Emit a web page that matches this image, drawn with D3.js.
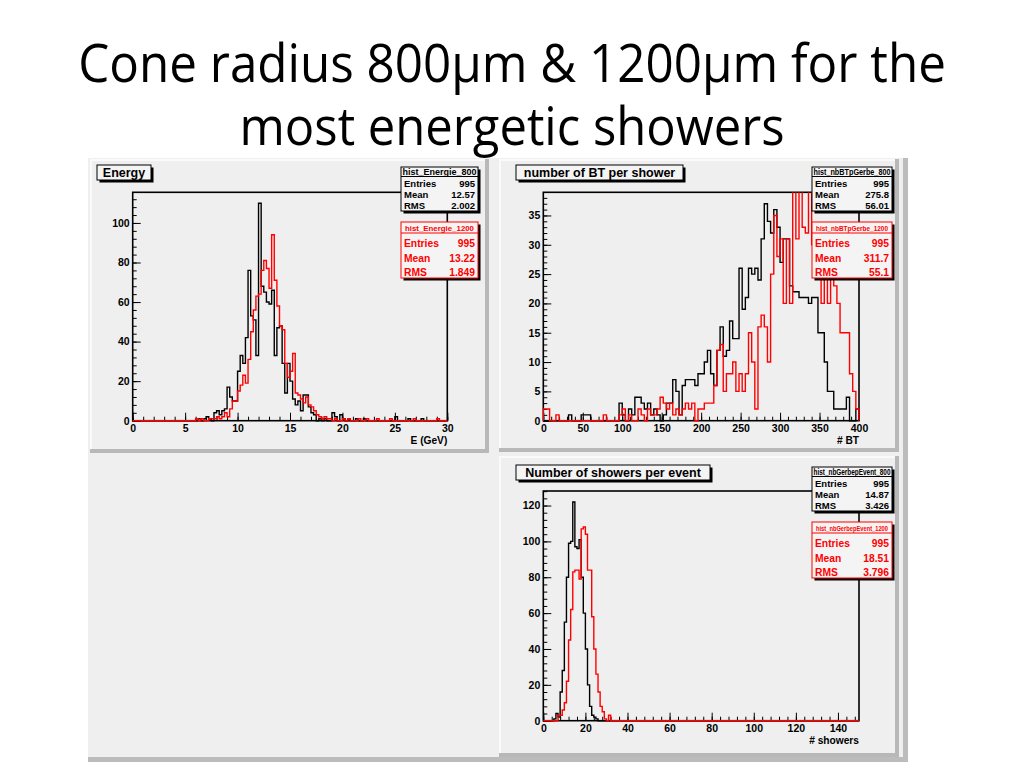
<!DOCTYPE html>
<html><head><meta charset="utf-8">
<script src="https://cdn.jsdelivr.net/npm/d3@7/dist/d3.min.js"></script>
<style>body{margin:0;background:#fff}svg{display:block}</style>
</head><body>
<svg id="c" width="1024" height="768"></svg>
<script>
// ---------------- DATA ----------------
const titleLines = ["Cone radius 800µm & 1200µm for the", "most energetic showers"];

const panelTitles = ["Energy", "number of BT per shower", "Number of showers per event"];
const axisTitles = ["E (GeV)", "# BT", "# showers"];

// Energy: 120 bins over 0..30 GeV
const energyRange = [0, 30];
const energy800 = [
 0,0,0,0,0,0,0,0, 0,0,0,0,0,0,0,0, 0,0,0,0,0,0,0,0,
 0,1,0,1,2,1,0,4,
 5,3,5,6,17,12,10,10,
 25,33,29,42,76,53,51,33,
 110,68,65,60,59,66,33,47,
 48,29,14,29,20,11,8,10,
 5,13,13,7,4,3,0,1,
 0,1,0,0,4,2,0,3,
 1,0,1,0,0,1,0,0,
 1,0,0,0,0,0,0,0,
 0,0,0,0,2,0,0,0,
 0,1,0,0,0,0,1,0,
 0,0,0,0,0,0,0,0];
const energy1200 = [
 0,0,0,0,0,0,0,0, 0,0,0,0,0,0,0,0, 0,0,0,0,0,0,0,0,
 1,0,1,0,0,1,1,1,
 2,1,2,4,2,6,10,10,
 15,18,23,19,31,45,56,63,
 64,76,81,77,67,94,71,58,
 48,46,29,22,25,34,14,13,
 11,9,12,8,7,5,3,2,
 1,2,1,1,0,1,0,0,
 1,0,1,0,0,0,1,0,
 0,1,0,0,0,1,0,0,
 0,0,1,0,0,0,0,0,
 0,0,0,1,0,0,0,0,
 0,0,0,0,1,0,0,0];

// Number of BT: 100 bins over 0..400
const btRange = [0, 400];
const bt800 = [
 0,0,0,0,0,0,0,0,1,0,
 0,0,1,1,1,0,0,0,0,0,
 0,0,0,0,3,1,0,2,1,4,
 4,3,2,3,1,2,1,0,1,3,
 3,7,5,1,6,7,7,7,6,8,
 8,10,12,8,6,12,16,11,12,17,
 14,14,26,19,21,26,25,26,24,31,
 37,34,32,36,33,27,31,31,23,22,
 22,21,21,21,20,21,21,15,15,10,
 5,5,2,2,2,2,4,0,0,2];
const bt1200 = [
 2,2,0,0,1,0,0,0,0,0,
 0,0,0,0,0,0,0,0,0,1,
 0,0,0,0,1,2,0,1,0,0,
 2,1,0,2,1,1,2,4,3,2,
 3,1,2,1,2,3,2,3,0,2,
 2,3,3,3,6,12,13,5,8,8,
 10,5,8,5,8,15,10,2,16,18,
 16,10,25,35,28,31,20,31,20,40,
 31,40,33,32,40,30,33,25,20,26,
 20,26,23,20,15,15,15,8,5,2];

// Number of showers per event: 150 bins over 0..150 (bins not listed are empty)
const showersRange = [0, 150];
const showers800 = [
 0,0,0,0,0,1,4,2,16,28,
 55,80,99,100,122,97,96,101,80,60,
 40,20,8,3,2,1,0];
const showers1200 = [
 0,0,0,0,0,0,0,3,3,6,
 10,22,45,62,83,84,84,79,107,108,
 104,84,84,58,40,26,16,8,5,1,
 0,3];

const binCounts = [120, 100, 150];
const yMaxima = [115.5, 38.95, 128.1];

const energyXTicks = [0,5,10,15,20,25,30];
const energyYTicks = [0,20,40,60,80,100];
const btXTicks = [0,50,100,150,200,250,300,350,400];
const btYTicks = [0,5,10,15,20,25,30,35];
const showersXTicks = [0,20,40,60,80,100,120,140];
const showersYTicks = [0,20,40,60,80,100,120];

const statNames800 = ["hist_Energie_800", "hist_nbBTpGerbe_800", "hist_nbGerbepEvent_800"];
const statNames1200 = ["hist_Energie_1200", "hist_nbBTpGerbe_1200", "hist_nbGerbepEvent_1200"];
const statLabels = ["Entries", "Mean", "RMS"];
const stats800 = [["995","12.57","2.002"], ["995","275.8","56.01"], ["995","14.87","3.426"]];
const stats1200 = [["995","13.22","1.849"], ["995","311.7","55.1"], ["995","18.51","3.796"]];

// ---------------- DRAWING ----------------
const svg = d3.select("#c");
const FONT = "'Liberation Sans', Arial, Helvetica, sans-serif";
const BG = "#efefef";

// slide title (horizontally condensed to the reference width)
[[titleLines[0], 82, 868], [titleLines[1], 145, 545]].forEach(([txt, by, wanted]) => {
  const t = svg.append("text").attr("x", 0).attr("y", 0).attr("text-anchor", "middle")
    .attr("font-family", "'Open Sans','Noto Sans',sans-serif").attr("font-size", 53)
    .attr("fill", "#000").text(txt);
  const w = t.node().getComputedTextLength();
  t.attr("transform", `translate(512,${by}) scale(${wanted / w},1)`);
});

// canvas
const cv = svg.append("g");
cv.append("rect").attr("x", 88).attr("y", 158).attr("width", 820).attr("height", 604).attr("fill", BG);
cv.append("rect").attr("x", 903).attr("y", 158).attr("width", 5).attr("height", 604).attr("fill", "#bcbcbc");
cv.append("rect").attr("x", 88).attr("y", 757).attr("width", 820).attr("height", 5).attr("fill", "#bcbcbc");

function pad(x0, y0, x1, y1) {
  cv.append("rect").attr("x", x0).attr("y", y0).attr("width", x1 - x0).attr("height", y1 - y0).attr("fill", BG);
  cv.append("rect").attr("x", x0).attr("y", y0).attr("width", x1 - x0).attr("height", 2).attr("fill", "#fafafa");
  cv.append("rect").attr("x", x0).attr("y", y0).attr("width", 2).attr("height", y1 - y0).attr("fill", "#fafafa");
  cv.append("rect").attr("x", x1 - 4).attr("y", y0).attr("width", 4).attr("height", y1 - y0).attr("fill", "#b8b8b8");
  cv.append("rect").attr("x", x0).attr("y", y1 - 4).attr("width", x1 - x0).attr("height", 4).attr("fill", "#b8b8b8");
}
pad(90, 159, 489, 453);
pad(499, 159, 899, 452);
pad(499, 456, 899, 757);

const panels = [
  {fx0:132.7, fx1:447.3, fy0:192.3, fy1:420.7, range:energyRange, h800:energy800, h1200:energy1200,
   xMajor:energyXTicks, xMinor:1, yMajor:energyYTicks, yMinor:4, tb:[97,165,54,15], sx:401, sy:167, sw:77},
  {fx0:543.3, fx1:859, fy0:192.3, fy1:420.7, range:btRange, h800:bt800, h1200:bt1200,
   xMajor:btXTicks, xMinor:10, yMajor:btYTicks, yMinor:1, tb:[516,165,167,15], sx:812, sy:167, sw:80},
  {fx0:543.3, fx1:859, fy0:491, fy1:720.7, range:showersRange, h800:showers800, h1200:showers1200,
   xMajor:showersXTicks, xMinor:4, yMajor:showersYTicks, yMinor:4, tb:[516,465,194,15], sx:812, sy:467, sw:80}
];

function histPoints(counts, nb, lo, hi) {
  const w = (hi - lo) / nb;
  const pts = [[lo, 0]];
  for (let i = 0; i < nb; i++) {
    const c = counts[i] || 0;
    pts.push([lo + i * w, c], [lo + (i + 1) * w, c]);
  }
  pts.push([hi, 0]);
  return pts;
}

panels.forEach((p, k) => {
  const g = svg.append("g");
  const x = d3.scaleLinear().domain(p.range).range([p.fx0, p.fx1]);
  const y = d3.scaleLinear().domain([0, yMaxima[k]]).range([p.fy1, p.fy0]);

  // frame
  g.append("rect").attr("x", p.fx0).attr("y", p.fy0).attr("width", p.fx1 - p.fx0).attr("height", p.fy1 - p.fy0)
    .attr("fill", "none").attr("stroke", "#000").attr("stroke-width", 1.6);

  // axes ticks
  const yMinorVals = d3.range(0, yMaxima[k] + 1e-9, p.yMinor);
  const xMinorVals = d3.range(p.range[0], p.range[1] + 1e-9, p.xMinor);
  const ax = [];
  ax.push(g.append("g").attr("transform", `translate(${p.fx0},0)`)
    .call(d3.axisLeft(y).tickValues(yMinorVals).tickSize(-4).tickFormat("")));
  ax.push(g.append("g").attr("transform", `translate(${p.fx0},0)`)
    .call(d3.axisLeft(y).tickValues(p.yMajor).tickSize(-8).tickPadding(3).tickFormat(d3.format("d"))));
  ax.push(g.append("g").attr("transform", `translate(0,${p.fy1})`)
    .call(d3.axisBottom(x).tickValues(xMinorVals).tickSize(-4).tickFormat("")));
  ax.push(g.append("g").attr("transform", `translate(0,${p.fy1})`)
    .call(d3.axisBottom(x).tickValues(p.xMajor).tickSize(-8).tickPadding(4).tickFormat(d3.format("d"))));
  ax.forEach(a => {
    a.select(".domain").remove();
    a.selectAll("line").attr("stroke", "#000").attr("stroke-width", 1);
    a.selectAll("text").attr("font-family", FONT).attr("font-weight", "bold").attr("font-size", 10.5).attr("fill", "#000");
  });

  // histograms
  const cid = "clip" + k;
  svg.append("clipPath").attr("id", cid).append("rect")
    .attr("x", p.fx0 - 1).attr("y", p.fy0).attr("width", p.fx1 - p.fx0 + 2).attr("height", p.fy1 - p.fy0 + 2);
  const line = d3.line().x(d => x(d[0])).y(d => y(d[1]));
  g.append("path").attr("d", line(histPoints(p.h800, binCounts[k], p.range[0], p.range[1])))
    .attr("fill", "none").attr("stroke", "#000").attr("stroke-width", 1.4).attr("clip-path", `url(#${cid})`);
  g.append("path").attr("d", line(histPoints(p.h1200, binCounts[k], p.range[0], p.range[1])))
    .attr("fill", "none").attr("stroke", "#f00").attr("stroke-width", 1.4).attr("clip-path", `url(#${cid})`);

  // axis title
  g.append("text").attr("x", p.fx1).attr("y", p.fy1 + 23.5).attr("text-anchor", "end")
    .attr("font-family", FONT).attr("font-weight", "bold").attr("font-size", 10.2).text(axisTitles[k]);

  // title box
  const [tx, ty, tw, th] = p.tb;
  g.append("rect").attr("x", tx + 2.5).attr("y", ty + 2.5).attr("width", tw).attr("height", th).attr("fill", "#000");
  g.append("rect").attr("x", tx).attr("y", ty).attr("width", tw).attr("height", th)
    .attr("fill", "#f4f4f4").attr("stroke", "#000").attr("stroke-width", 1);
  g.append("text").attr("x", tx + tw / 2).attr("y", ty + 11.5).attr("text-anchor", "middle")
    .attr("font-family", FONT).attr("font-weight", "bold").attr("font-size", 12.5).text(panelTitles[k]);

  // stat boxes
  function statBox(bx, by, bw, bh, color, name, headH, headFs, headLen, rowFs, rowBase, vals) {
    g.append("rect").attr("x", bx + 2.5).attr("y", by + 2.5).attr("width", bw).attr("height", bh).attr("fill", "#000");
    g.append("rect").attr("x", bx).attr("y", by).attr("width", bw).attr("height", bh)
      .attr("fill", "#f4f4f4").attr("stroke", color).attr("stroke-width", 1);
    g.append("line").attr("x1", bx).attr("x2", bx + bw).attr("y1", by + headH).attr("y2", by + headH)
      .attr("stroke", color).attr("stroke-width", 1);
    g.append("text").attr("x", bx + bw / 2).attr("y", by + headH - 2).attr("text-anchor", "middle")
      .attr("font-family", FONT).attr("font-weight", "bold").attr("font-size", headFs).attr("fill", color)
      .attr("textLength", headLen).attr("lengthAdjust", "spacingAndGlyphs").text(name);
    statLabels.forEach((lab, i) => {
      g.append("text").attr("x", bx + 3).attr("y", by + rowBase[i])
        .attr("font-family", FONT).attr("font-weight", "bold").attr("font-size", rowFs).attr("fill", color).text(lab);
      g.append("text").attr("x", bx + bw - 3).attr("y", by + rowBase[i]).attr("text-anchor", "end")
        .attr("font-family", FONT).attr("font-weight", "bold").attr("font-size", rowFs).attr("fill", color).text(vals[i]);
    });
  }
  statBox(p.sx, p.sy, p.sw, 44, "#000", statNames800[k], 9.5, 8.5, p.sw - 3, 9.5, [19.5, 30.5, 42], stats800[k]);
  statBox(p.sx, p.sy + 55, p.sw, 56, "#f00", statNames1200[k], 11, 7.2, p.sw - 8, 10.3, [25, 39.5, 53.5], stats1200[k]);
});
</script>
</body></html>
